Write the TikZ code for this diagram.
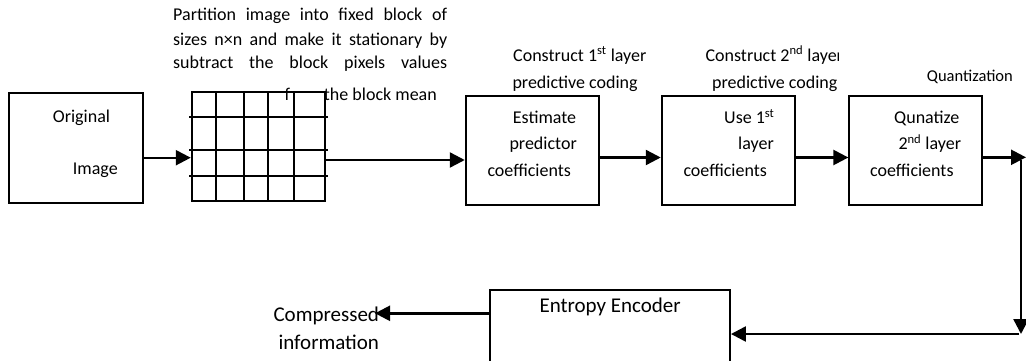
\documentclass[tikz,border=0pt]{standalone}
\usepackage{fontspec}
\setmainfont{Carlito}
\usetikzlibrary{arrows.meta}
\tikzset{
  box/.style={draw, line width=1.9pt, inner sep=0pt},
  arr/.style={line width=2.4pt, -{Triangle[length=15pt,width=15pt]}},
  txt/.style={inner sep=0pt, anchor=base west, font=\fontsize{18}{22}\selectfont},
  txte/.style={txt, anchor=base east},
  bigtxt/.style={txt, font=\fontsize{21}{25}\selectfont},
  smalltxt/.style={txt, font=\fontsize{16.5}{20}\selectfont},
  gridline/.style={line width=1.9pt}
}
\begin{document}
\begin{tikzpicture}[x=1pt,y=-1pt]
\clip (0,0) rectangle (1026,360);
\fill[white] (0,0) rectangle (1026,360);

% paragraph above the grid
\node[txt] (p1) at (173,20.5) {\makebox[274pt][s]{Partition image into fixed block of}};
\node[txt] (p2) at (173,45.5) {\makebox[274pt][s]{sizes n×n and make it stationary by}};
\node[txt] (p3) at (173,68.8) {\makebox[274pt][s]{subtract the block pixels values}};
\node[txte] (p4) at (437,100.5) {from the block mean};

% boxes
\node[box, minimum width=133.4pt, minimum height=110pt] (orig) at (76,148.3) {};
\fill[white] (191.7,92.3) rectangle (268.3,117.3);
\fill[white] (290,92.3) rectangle (325,117.3);
\node[box, minimum width=133.3pt, minimum height=108.4pt] (grid) at (258.35,146.5) {};
\foreach \gx in {215.7,243.7,268.3,294}
  \draw[gridline] (\gx,92.3) -- (\gx,200.7);
\foreach \gy in {117.3,150,176}
  \draw[gridline] (189,\gy) -- (328,\gy);

\node[box, minimum width=133pt, minimum height=109.3pt] (est) at (532.2,150.65) {};
\node[box, minimum width=133.3pt, minimum height=109.3pt] (use) at (728.35,150.65) {};
\node[box, minimum width=132.7pt, minimum height=109.3pt] (qun) at (915.65,150.65) {};
\node[box, minimum width=240pt, minimum height=110pt] (ent) at (610,345) {};

% box texts
\node[txt] (o1) at (52.7,122.2) {Original};
\node[txt] (o2) at (72.7,174.8) {Image};
\node[txt] (e1) at (512.7,123.8) {Estimate};
\node[txt] (e2) at (509.3,149.8) {predictor};
\node[txt] (e3) at (487.3,176.5) {coefficients};
\node[txt] (u1) at (724,123.8) {Use 1\textsuperscript{st}};
\node[txt] (u2) at (738,149.8) {layer};
\node[txt] (u3) at (683.3,176.5) {coefficients};
\node[txt] (q1) at (894,123.8) {Qunatize};
\node[txt] (q2) at (898.3,149.8) {2\textsuperscript{nd} layer};
\node[txt] (q3) at (870,176.5) {coefficients};
\node[bigtxt] (n1) at (539.3,312.5) {Entropy Encoder};

% labels
\node[txt] (c1a) at (513,61) {Construct 1\textsuperscript{st} layer};
\node[txt] (c1b) at (512.3,88.2) {predictive coding};
\begin{scope}
\clip (700,35) rectangle (838.5,100);
\node[txt] (c2a) at (705.4,61) {Construct 2\textsuperscript{nd} layer};
\node[txt] (c2b) at (712,88.2) {predictive coding};
\end{scope}
\node[smalltxt] (qz) at (926.7,81) {Quantization};
\node[bigtxt] (cm1) at (273.3,321.5) {Compressed};
\node[bigtxt] (cm2) at (278.3,349.8) {information};

% connectors
\coordinate (ya) at (0,157.7);
\coordinate (yb) at (0,160);
\coordinate (yc) at (0,157.5);
\draw[arr] (orig.east |- ya) -- (grid.west |- ya);
\draw[arr] (grid.east |- yb) -- (est.west |- yb);
\draw[arr] (est.east |- yc) -- (use.west |- yc);
\draw[arr] (use.east |- yc) -- (qun.west |- yc);
\coordinate (qout) at (1026,157.3);
\draw[arr] (qun.east |- qout) -- (qout);
\coordinate (vtop) at (1021,160);
\coordinate (vbot) at (1021,334);
\draw[arr] (vtop) -- (vbot);
\coordinate (hstart) at (1019,334);
\draw[arr] (hstart) -- (ent.east |- hstart);
\coordinate (cout) at (375,313.3);
\draw[arr] (ent.west |- cout) -- (cout);
\end{tikzpicture}
\end{document}
